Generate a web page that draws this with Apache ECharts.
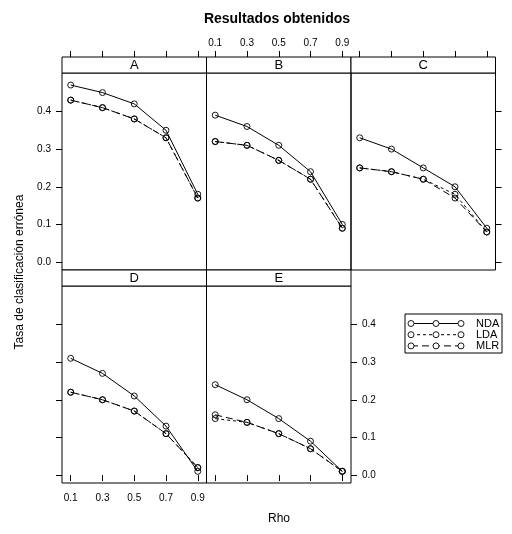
<!DOCTYPE html>
<html><head><meta charset="utf-8">
<script src="https://cdn.jsdelivr.net/npm/echarts@6/dist/echarts.min.js"></script>
<style>html,body{margin:0;padding:0;background:#fff}#c{width:512px;height:534px}</style>
</head><body><div id="c"></div>
<script>
// ---- data ----
const rho = [0.1, 0.3, 0.5, 0.7, 0.9];
const panelNames = ['A', 'B', 'C', 'D', 'E'];
const methods = ['NDA', 'LDA', 'MLR'];
// values per panel (A..E), per rho
const nda = [
  [0.47, 0.45, 0.42, 0.35, 0.18],
  [0.39, 0.36, 0.31, 0.24, 0.10],
  [0.33, 0.30, 0.25, 0.20, 0.09],
  [0.31, 0.27, 0.21, 0.13, 0.01],
  [0.24, 0.20, 0.15, 0.09, 0.01]
];
const lda = [
  [0.43, 0.41, 0.38, 0.33, 0.17],
  [0.32, 0.31, 0.27, 0.22, 0.09],
  [0.25, 0.24, 0.22, 0.18, 0.08],
  [0.22, 0.20, 0.17, 0.11, 0.02],
  [0.15, 0.14, 0.11, 0.07, 0.01]
];
const mlr = [
  [0.43, 0.41, 0.38, 0.33, 0.17],
  [0.32, 0.31, 0.27, 0.22, 0.09],
  [0.25, 0.24, 0.22, 0.17, 0.08],
  [0.22, 0.20, 0.17, 0.11, 0.02],
  [0.16, 0.14, 0.11, 0.07, 0.01]
];
const xTicks = [0.1, 0.3, 0.5, 0.7, 0.9];
const yTicks = [0.0, 0.1, 0.2, 0.3, 0.4];

// ---- layout ----
const FONT = 'Liberation Sans, Arial, Helvetica, sans-serif';
const colLeft = [62, 206.5, 351];
const panelW = 144.5;
const rowTop = [73, 286];
const panelH = 197;
const stripH = 16;
const pos = [[0,0],[0,1],[0,2],[1,0],[1,1]];
const seriesVals = [nda, lda, mlr];
const dashes = ['solid', [3, 3], [7, 4]];
const X_MIN = 0.045, X_MAX = 0.955, Y_MIN = -0.021, Y_MAX = 0.502;
const fmt = v => v.toFixed(1);

const grids = [], xAxes = [], yAxes = [], series = [], graphics = [];
pos.forEach(([r, c], p) => {
  grids.push({left: colLeft[c], top: rowTop[r], width: panelW, height: panelH,
    show: true, borderColor: '#000', borderWidth: 1, backgroundColor: 'transparent', containLabel: false});
  xAxes.push({
    gridIndex: p, type: 'value', min: X_MIN, max: X_MAX, position: 'bottom',
    show: r === 1,
    axisLine: {show: false}, splitLine: {show: false},
    axisTick: {show: true, inside: false, length: 6, customValues: xTicks, lineStyle: {color: '#000', width: 1}},
    axisLabel: {show: p === 3, customValues: xTicks, formatter: fmt, fontSize: 10,
      fontFamily: FONT, color: '#000', margin: 10}
  });
  const yPos = (p === 0 || p === 3) ? 'left' : 'right';
  yAxes.push({
    gridIndex: p, type: 'value', min: Y_MIN, max: Y_MAX, position: yPos,
    show: p !== 1,
    axisLine: {show: false}, splitLine: {show: false},
    axisTick: {show: true, inside: false, length: 6, customValues: yTicks, lineStyle: {color: '#000', width: 1}},
    axisLabel: {show: (p === 0 || p === 4), customValues: yTicks, formatter: fmt, fontSize: 10,
      fontFamily: FONT, color: '#000', margin: 11}
  });
  methods.forEach((m, k) => {
    series.push({
      name: m, type: 'line', xAxisIndex: p, yAxisIndex: p,
      data: rho.map((x, i) => [x, seriesVals[k][p][i]]),
      symbol: 'circle', symbolSize: 6, showSymbol: true,
      lineStyle: {color: '#000', width: 1, type: dashes[k]},
      itemStyle: {color: 'rgba(0,0,0,0)', borderColor: '#000', borderWidth: 0.9},
      emphasis: {disabled: true}, silent: true, animation: false, z: 3 - k
    });
  });
  // strip
  graphics.push({type: 'rect', shape: {x: colLeft[c], y: rowTop[r] - stripH, width: panelW, height: stripH},
    style: {fill: '#fff', stroke: '#000', lineWidth: 1}, silent: true});
  graphics.push({type: 'text', x: colLeft[c] + panelW / 2, y: rowTop[r] - stripH / 2 + 0.5,
    style: {text: panelNames[p], font: '13px ' + FONT, fill: '#000', align: 'center', verticalAlign: 'middle',
      textAlign: 'center', textVerticalAlign: 'middle'}, silent: true});
});

// top tick rows above the strips (helper grids without data)
[0, 1, 2].forEach(c => {
  const gi = grids.length;
  grids.push({left: colLeft[c], top: 20, width: panelW, height: rowTop[0] - stripH - 20, show: false});
  xAxes.push({
    gridIndex: gi, type: 'value', min: X_MIN, max: X_MAX, position: 'bottom',
    axisLine: {show: false}, splitLine: {show: false},
    axisTick: {show: true, inside: true, length: 6, customValues: xTicks, lineStyle: {color: '#000', width: 1}},
    axisLabel: {show: c === 1, inside: true, customValues: xTicks, formatter: fmt, fontSize: 10,
      fontFamily: FONT, color: '#000', margin: 9}
  });
  yAxes.push({gridIndex: gi, type: 'value', show: false, min: 0, max: 1});
});

// axis titles
graphics.push({type: 'text', x: 20, y: 272, rotation: Math.PI / 2,
  style: {text: 'Tasa de clasificación errónea', font: '12px ' + FONT, fill: '#000', align: 'center', verticalAlign: 'middle',
    textAlign: 'center', textVerticalAlign: 'middle'}, silent: true});
graphics.push({type: 'text', x: 279, y: 519,
  style: {text: 'Rho', font: '12px ' + FONT, fill: '#000', align: 'center', verticalAlign: 'middle',
    textAlign: 'center', textVerticalAlign: 'middle'}, silent: true});

// legend (key)
const legX = 405, legY = 314, legW = 97, legH = 39;
graphics.push({type: 'rect', shape: {x: legX, y: legY, width: legW, height: legH},
  style: {fill: '#fff', stroke: '#000', lineWidth: 1}, silent: true});
methods.forEach((m, k) => {
  const y = 323.5 + k * 11.2;
  graphics.push({type: 'line', shape: {x1: 411, y1: y, x2: 461, y2: y},
    style: {stroke: '#000', lineWidth: 1, lineDash: k === 0 ? null : dashes[k]}, silent: true});
  [411, 436, 461].forEach(cx => graphics.push({type: 'circle', shape: {cx: cx, cy: y, r: 3},
    style: {fill: '#fff', stroke: '#000', lineWidth: 0.9}, silent: true}));
  graphics.push({type: 'text', x: 476, y: y + 0.5,
    style: {text: m, font: '11px ' + FONT, fill: '#000', align: 'left', verticalAlign: 'middle',
      textAlign: 'left', textVerticalAlign: 'middle'}, silent: true});
});

const chart = echarts.init(document.getElementById('c'), null, {renderer: 'canvas'});
chart.setOption({
  backgroundColor: '#fff',
  animation: false,
  title: {text: 'Resultados obtenidos', left: 272, top: 7, textAlign: 'center',
    textStyle: {fontSize: 14, fontWeight: 'bold', fontFamily: FONT, color: '#000'}},
  grid: grids, xAxis: xAxes, yAxis: yAxes, series: series, graphic: graphics
});
</script></body></html>
